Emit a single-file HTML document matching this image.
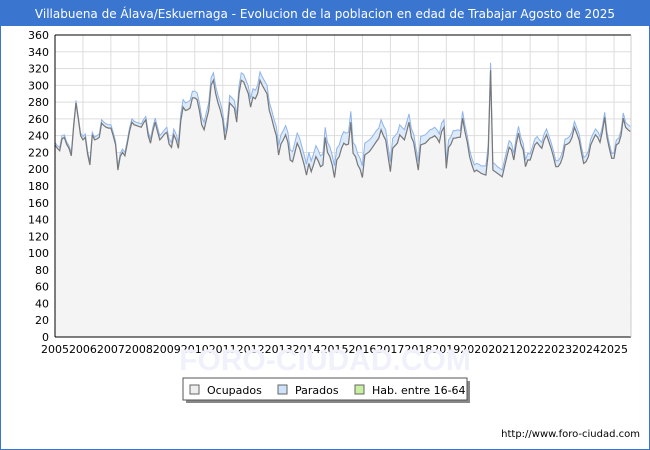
<!DOCTYPE html>
<html><head><meta charset="utf-8"><style>
body{margin:0;background:#fff;font-family:"Liberation Sans","DejaVu Sans",sans-serif}
#wrap{position:relative;width:650px;height:450px;overflow:hidden}
</style></head><body>
<div id="wrap">
<svg id="chart" width="650" height="450" xmlns="http://www.w3.org/2000/svg">
<rect x="0.5" y="0.5" width="649" height="449" fill="#fff" stroke="#3a75d0"/>
<rect x="0" y="0" width="650" height="26" fill="#3a75d0"/>
<text x="325" y="18" text-anchor="middle" font-size="12" fill="#fff" font-family="DejaVu Sans, sans-serif">Villabuena de Álava/Eskuernaga - Evolucion de la poblacion en edad de Trabajar Agosto de 2025</text>
<g id="grid"></g>
<g id="series"></g>
<g id="axes"></g>
<text x="325" y="370" text-anchor="middle" font-size="30" fill="#f0f1fb" font-weight="bold">FORO-CIUDAD.COM</text>
<g>
<rect x="186" y="381" width="284" height="22" fill="#888"/>
<rect x="183" y="378" width="284" height="22" fill="#fff" stroke="#555"/>
<g><rect x="190" y="385" width="9" height="9" fill="#eee" stroke="#666"/><text x="207" y="394" font-size="11" fill="#000" font-family="DejaVu Sans, sans-serif">Ocupados</text></g>
<g><rect x="278" y="385" width="9" height="9" fill="#cfe2fb" stroke="#666"/><text x="295" y="394" font-size="11" fill="#000" font-family="DejaVu Sans, sans-serif">Parados</text></g>
<g><rect x="355" y="385" width="9" height="9" fill="#c8f0a0" stroke="#666"/><text x="372" y="394" font-size="11" fill="#000" font-family="DejaVu Sans, sans-serif">Hab. entre 16-64</text></g>
</g>
<text x="640" y="437" text-anchor="end" font-size="10" fill="#000" font-family="DejaVu Sans, sans-serif">http://www.foro-ciudad.com</text>
</svg>
</div>
<script>
const yTicks=[0,20,40,60,80,100,120,140,160,180,200,220,240,260,280,300,320,340,360];
const xYears=[2005,2006,2007,2008,2009,2010,2011,2012,2013,2014,2015,2016,2017,2018,2019,2020,2021,2022,2023,2024,2025];
const ocupados=[
229,225,222,236,238,230,225,216,250,279,260,240,
235,238,218,205,241,235,236,238,255,252,250,249,
249,240,229,199,215,220,216,230,245,256,253,252,
251,250,255,259,240,231,245,256,245,235,238,242,
244,230,226,241,235,225,258,274,270,271,273,285,
285,283,270,253,247,259,270,300,306,290,279,270,
259,235,250,279,276,273,256,290,306,304,297,290,
274,286,284,290,306,300,295,290,270,261,250,240,
217,230,235,241,232,211,209,220,231,225,215,205,
193,207,197,205,215,210,203,205,238,220,215,205,
190,211,215,225,231,229,230,256,219,215,205,200,
190,217,219,221,225,229,233,237,247,240,235,215,
197,225,228,231,241,238,235,245,256,238,232,215,
199,229,230,231,234,237,238,240,237,232,245,250,
201,226,230,237,237,238,238,261,245,232,215,205,
197,199,197,195,194,193,219,318,199,197,195,193,
191,203,215,226,223,211,230,243,230,223,203,211,
211,220,229,232,228,225,235,241,233,225,215,203,
203,207,215,229,230,232,238,250,243,235,220,207,
209,215,229,235,241,238,232,245,262,238,225,213,
213,229,231,240,261,250,247,245];
const parados=[
3,3,4,4,3,3,3,4,4,3,3,3,
4,4,4,4,3,3,4,4,4,4,4,4,
4,4,4,4,4,4,4,4,4,4,4,4,
4,4,4,4,5,5,5,5,5,5,5,5,
6,6,6,7,7,7,8,9,9,9,9,8,
8,8,9,9,9,9,9,9,9,9,9,9,
9,9,9,9,9,9,9,9,9,9,9,9,
10,10,10,10,10,10,10,10,10,10,10,11,
11,11,11,11,12,12,12,12,12,12,12,12,
13,13,13,13,13,13,13,13,12,12,12,12,
14,14,14,14,14,14,14,13,13,13,13,13,
14,14,14,14,13,13,13,12,12,12,12,12,
12,12,12,12,12,12,12,11,10,10,10,10,
10,10,10,10,10,10,10,10,10,10,10,9,
9,9,9,9,9,9,8,8,8,8,8,8,
8,8,9,9,10,11,10,9,9,9,8,8,
8,8,8,8,8,8,8,8,8,8,8,8,
7,7,7,7,7,7,7,7,7,7,7,7,
7,7,7,7,7,7,7,7,7,7,7,7,
7,7,7,7,7,7,7,6,6,6,6,6,
6,6,6,6,6,6,6,6];
const NS='http://www.w3.org/2000/svg';
const X0=55,X1=631,Y0=337,Y1=35,YR=360;
const yearW=27.95;
function xs(i){return X0+i*yearW/12;}
function ys(v){return Y0-(v/YR)*(Y0-Y1);}
function mk(tag,attrs,parent){const e=document.createElementNS(NS,tag);for(const k in attrs)e.setAttribute(k,attrs[k]);parent.appendChild(e);return e;}
const grid=document.getElementById('grid'),ser=document.getElementById('series'),ax=document.getElementById('axes');
const bg=mk('rect',{x:X0,y:Y1,width:X1-X0,height:Y0-Y1,fill:'#fff'},grid);


yTicks.forEach(t=>{
  const l=mk('line',{x1:X0,x2:X1,y1:ys(t),y2:ys(t),stroke:'#ddd','stroke-width':1},grid);
  
  
  const tx=mk('text',{x:X0-6,y:ys(t)+4,'text-anchor':'end','font-size':11,fill:'#000','font-family':'DejaVu Sans, sans-serif'},ax);
  tx.textContent=t;
  
  
});
xYears.forEach((yr,k)=>{
  const x=xs(k*12);
  if(k>0){const l=mk('line',{x1:x,x2:x,y1:Y1,y2:Y0,stroke:'#ddd','stroke-width':1},grid);
  
  }
  const tx=mk('text',{x:x,y:Y0+16,'text-anchor':'middle','font-size':11,fill:'#000','font-family':'DejaVu Sans, sans-serif'},ax);
  tx.textContent=yr;
  
  
});
const n=ocupados.length;
const totalVals=ocupados.map((v,i)=>v+parados[i]);
const ptsO=ocupados.map((v,i)=>xs(i).toFixed(1)+','+ys(v).toFixed(1));
const ptsT=totalVals.map((v,i)=>xs(i).toFixed(1)+','+ys(v).toFixed(1));
const aT=mk('polygon',{points:ptsT.join(' ')+' '+xs(n-1)+','+Y0+' '+X0+','+Y0,fill:'#dceafa'},ser);


const aO=mk('polygon',{points:ptsO.join(' ')+' '+xs(n-1)+','+Y0+' '+X0+','+Y0,fill:'#f4f4f4'},ser);


const lT=mk('polyline',{points:ptsT.join(' '),fill:'none',stroke:'#8fb4ea','stroke-width':1},ser);


const lO=mk('polyline',{points:ptsO.join(' '),fill:'none',stroke:'#777','stroke-width':1.2},ser);


const yl=mk('line',{x1:X0,x2:X0,y1:Y1,y2:Y0,stroke:'#000'},ax);


const xl=mk('line',{x1:X0,x2:X1,y1:Y0,y2:Y0,stroke:'#000'},ax);


const tl=mk('line',{x1:X0,x2:X1,y1:Y1,y2:Y1,stroke:'#000'},ax);


const rl=mk('line',{x1:X1,x2:X1,y1:Y1,y2:Y0,stroke:'#ccc'},ax);


</script>
</body></html>
